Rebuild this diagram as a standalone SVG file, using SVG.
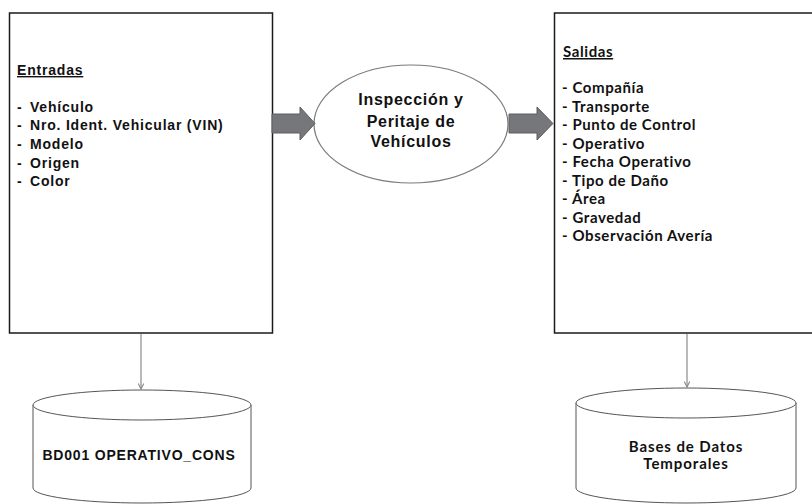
<svg xmlns="http://www.w3.org/2000/svg" width="812" height="504" viewBox="0 0 812 504">
<defs>
<style>
.box{fill:#fff;stroke:#1a1a1a;stroke-width:1.5}
.ell{fill:#fff;stroke:#7a7a7a;stroke-width:1.2}
.cyl{fill:#fff;stroke:#555;stroke-width:1}
.blk{fill:#76777a;stroke:#5e5f62;stroke-width:1}
.conn{stroke:#8a8a8a;stroke-width:1.2;fill:none}
.ta{font-family:"Liberation Sans",Arial,sans-serif;font-weight:bold;font-size:14px;fill:#111;letter-spacing:0.8px}
.tc{font-family:Lato,"Liberation Sans",sans-serif;font-weight:bold;font-size:15px;fill:#111;letter-spacing:0.6px}
.te{font-family:"Liberation Sans",Arial,sans-serif;font-weight:bold;font-size:16px;fill:#111;letter-spacing:0.7px;text-anchor:middle}
</style>
<marker id="ah" viewBox="0 0 10 10" refX="9" refY="5" markerWidth="7" markerHeight="7" orient="auto" markerUnits="userSpaceOnUse">
<path d="M1,1 L9,5 L1,9" fill="none" stroke="#8a8a8a" stroke-width="1.6"/>
</marker>
</defs>
<rect width="812" height="504" fill="#fff"/>

<g id="entradas">
<rect class="box" x="9.5" y="13" width="263" height="320"/>
<text class="ta" x="17" y="75" text-decoration="underline">Entradas</text>
<text class="ta" x="17" y="111.7">-<tspan x="30">Vehículo</tspan></text>
<text class="ta" x="17" y="130.4">-<tspan x="30">Nro. Ident. Vehicular (VIN)</tspan></text>
<text class="ta" x="17" y="149">-<tspan x="30">Modelo</tspan></text>
<text class="ta" x="17" y="167.7">-<tspan x="30">Origen</tspan></text>
<text class="ta" x="17" y="186.4">-<tspan x="30">Color</tspan></text>
</g>

<g id="proceso">
<ellipse class="ell" cx="411" cy="124" rx="97" ry="59"/>
<text class="te" x="411" y="105">Inspección y</text>
<text class="te" x="411" y="126.5">Peritaje de</text>
<text class="te" x="411" y="147">Vehículos</text>
</g>

<g id="salidas">
<rect class="box" x="554.5" y="13" width="263" height="320"/>
<text class="tc" x="563" y="57" text-decoration="underline">Salidas</text>
<text class="tc" x="562" y="93">- Compañía</text>
<text class="tc" x="562" y="111.5">- Transporte</text>
<text class="tc" x="562" y="130">- Punto de Control</text>
<text class="tc" x="562" y="148.5">- Operativo</text>
<text class="tc" x="562" y="167">- Fecha Operativo</text>
<text class="tc" x="562" y="185.5">- Tipo de Daño</text>
<text class="tc" x="562" y="204">- Área</text>
<text class="tc" x="562" y="222.5">- Gravedad</text>
<text class="tc" x="562" y="241">- Observación Avería</text>
</g>

<g id="bd001">
<path class="cyl" d="M33,405 L33,488 A109,15 0 0,0 251,488 L251,405"/>
<ellipse class="cyl" cx="142" cy="405" rx="109" ry="15"/>
<text class="ta" x="139" y="460" text-anchor="middle">BD001 OPERATIVO_CONS</text>
</g>

<g id="temporales">
<path class="cyl" d="M576,403 L576,488 A110,15 0 0,0 796,488 L796,403"/>
<ellipse class="cyl" cx="686" cy="403" rx="110" ry="15"/>
<text class="tc" x="686" y="452" text-anchor="middle" style="letter-spacing:0.9px">Bases de Datos</text>
<text class="tc" x="686" y="469" text-anchor="middle" style="letter-spacing:0.9px">Temporales</text>
</g>

<g id="connectors">
<path class="blk" d="M272,114 L300,114 L300,107 L315,123.5 L300,140 L300,133 L272,133 Z"/>
<path class="blk" d="M509,114 L537,114 L537,107 L553,123.5 L537,140 L537,133 L509,133 Z"/>
<line class="conn" x1="141" y1="334" x2="141" y2="389" marker-end="url(#ah)"/>
<line class="conn" x1="687" y1="334" x2="687" y2="387" marker-end="url(#ah)"/>
</g>
</svg>
